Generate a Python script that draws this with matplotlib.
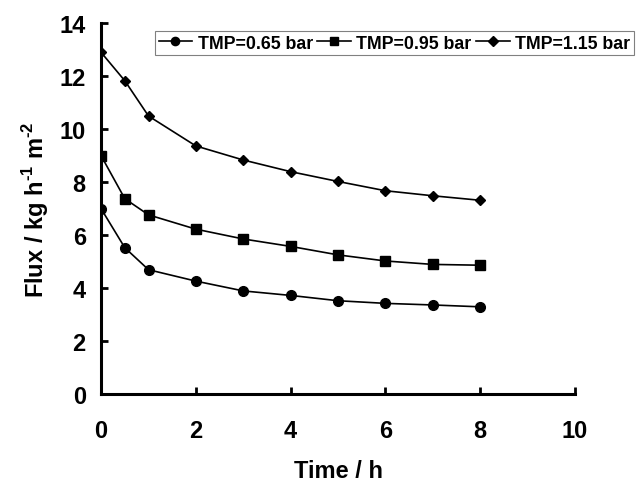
import matplotlib
matplotlib.use("Agg")
import matplotlib.pyplot as plt

time_h = [0, 0.5, 1, 2, 3, 4, 5, 6, 7, 8]
flux_065 = [7.0, 5.53, 4.7, 4.27, 3.9, 3.73, 3.53, 3.43, 3.37, 3.3]
flux_095 = [9.0, 7.38, 6.77, 6.23, 5.86, 5.58, 5.26, 5.03, 4.9, 4.87]
flux_115 = [12.9, 11.83, 10.5, 9.37, 8.84, 8.4, 8.03, 7.68, 7.49, 7.32]
series_labels = ["TMP=0.65 bar", "TMP=0.95 bar", "TMP=1.15 bar"]

plt.rcParams["font.family"] = ["Liberation Sans", "DejaVu Sans"]
plt.rcParams["font.weight"] = "bold"
plt.rcParams["mathtext.fontset"] = "custom"
plt.rcParams["mathtext.rm"] = "Liberation Sans"

fig = plt.figure(figsize=(6.36, 4.85), dpi=100)
ax = fig.add_axes([0.159, 0.185, 0.745, 0.765])

ax.plot(time_h, flux_065, color="black", lw=1.2, marker="o", ms=7, label=series_labels[0])
ax.plot(time_h, flux_095, color="black", lw=1.2, marker="s", ms=7, label=series_labels[1])
ax.plot(time_h, flux_115, color="black", lw=1.2, marker="D", ms=5.5, label=series_labels[2])

ax.set_xlim(0, 10)
ax.set_ylim(0, 14)
ax.set_xticks(range(0, 11, 2))
ax.set_yticks(range(0, 15, 2))
for s in ["top", "right"]:
    ax.spines[s].set_visible(False)
for s in ["left", "bottom"]:
    ax.spines[s].set_linewidth(2.2)
ax.tick_params(direction="in", length=5, width=2, labelsize=17)
ax.tick_params(axis="x", pad=18)
ax.tick_params(axis="y", pad=11)
for lab in ax.get_xticklabels() + ax.get_yticklabels():
    lab.set_fontweight("bold")

ax.set_xlabel("Time / h", fontsize=17, fontweight="bold", labelpad=12)
ax.set_ylabel("Flux / kg h$^{\\mathregular{\u20101}}$ m$^{\\mathregular{\u20102}}$",
              fontsize=17, fontweight="bold", labelpad=6)

leg = fig.legend(loc="upper left", bbox_to_anchor=(155 / 636, 1 - 32 / 485), ncol=3,
                 prop={"weight": "bold", "size": 12.8}, handlelength=1.9,
                 handletextpad=0.3, columnspacing=0.25, borderpad=0.2,
                 borderaxespad=0, fancybox=False, edgecolor="gray", framealpha=1,
                 markerscale=0.85)
leg.get_frame().set_linewidth(0.8)

fig.savefig("out.png", dpi=100)
